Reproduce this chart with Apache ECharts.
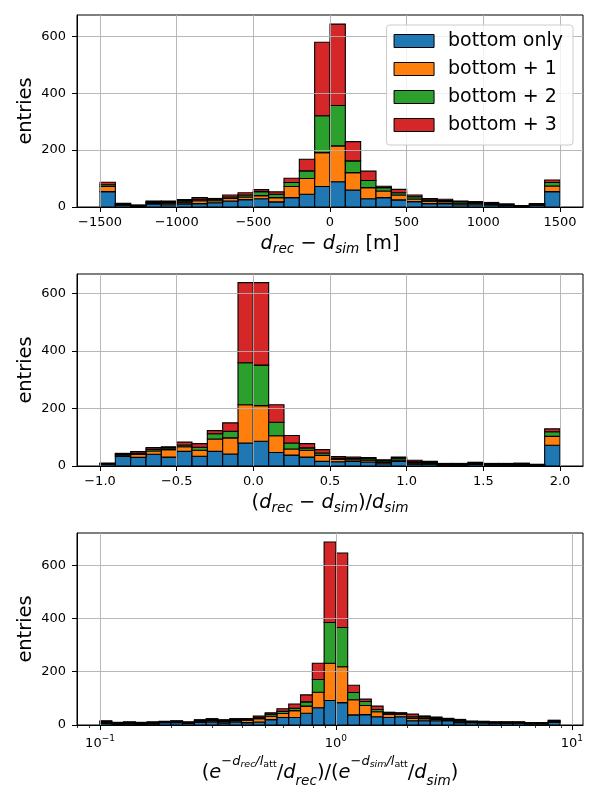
<!DOCTYPE html>
<html>
<head>
<meta charset="utf-8">
<script src="https://cdn.jsdelivr.net/npm/echarts@6/dist/echarts.min.js"></script>
<style>
html,body{margin:0;padding:0;background:#fff;}
#chart{width:600px;height:800px;}
</style>
</head>
<body>
<div id="chart"></div>
<script>
const seriesNames = ['bottom only', 'bottom + 1', 'bottom + 2', 'bottom + 3'];
const seriesColors = ['#1f77b4', '#ff7f0e', '#2ca02c', '#d62728'];

// Panel 1: d_rec - d_sim [m]
const edgesDiff = [-1500,-1400,-1300,-1200,-1100,-1000,-900,-800,-700,-600,-500,-400,-300,-200,-100,0,100,200,300,400,500,600,700,800,900,1000,1100,1200,1300,1400,1500];
const diffBottomOnly = [54,6,4,11,8,11,12,15,21,26,29,18,33,45,72,89,60,29,33,25,19,12,12,8,8,7,5,2,6,54];
const diffBottom1 = [18,3,1,4,5,6,10,7,9,9,11,15,39,55,119,126,61,39,23,17,9,8,7,5,5,4,2,1,2,20];
const diffBottom2 = [6,2,1,3,4,5,5,5,5,7,14,12,14,27,130,142,41,25,12,8,8,5,4,6,3,3,2,1,2,12];
const diffBottom3 = [9,2,1,3,4,4,6,3,7,8,7,8,15,41,258,286,68,33,5,12,6,5,4,2,3,2,2,1,2,9];
const ticksDiff = [-1500,-1000,-500,0,500,1000,1500];

// Panel 2: (d_rec - d_sim)/d_sim
const edgesRel = [-1.0,-0.9,-0.8,-0.7,-0.6,-0.5,-0.4,-0.3,-0.2,-0.1,0.0,0.1,0.2,0.3,0.4,0.5,0.6,0.7,0.8,0.9,1.0,1.1,1.2,1.3,1.4,1.5,1.6,1.7,1.8,1.9,2.0];
const relBottomOnly = [6,33,30,41,31,51,34,51,42,80,86,47,38,31,16,15,16,14,8,16,6,6,3,3,5,3,3,4,2,72];
const relBottom1 = [2,5,10,11,26,16,21,43,56,133,124,58,21,24,21,9,6,6,4,5,5,3,2,2,3,2,2,2,1,31];
const relBottom2 = [1,3,4,6,6,6,10,18,23,146,141,47,21,8,8,4,4,5,6,6,4,3,2,2,3,2,2,2,2,16];
const relBottom3 = [1,3,6,6,4,10,13,11,29,279,287,61,26,15,12,5,5,4,4,4,5,4,2,2,2,2,2,2,1,10];
const ticksRel = [-1.0,-0.5,0.0,0.5,1.0,1.5,2.0];

// Panel 3: attenuation ratio (log bins)
const edgesAtt = [0.1,0.1122,0.1259,0.1413,0.1585,0.1778,0.1995,0.2239,0.2512,0.2818,0.3162,0.3548,0.3981,0.4467,0.5012,0.5623,0.6310,0.7079,0.7943,0.8913,1.0,1.122,1.259,1.413,1.585,1.778,1.995,2.239,2.512,2.818,3.162,3.548,3.981,4.467,5.012,5.623,6.310,7.079,7.943,8.913];
const attBottomOnly = [6,4,5,4,5,9,9,6,10,11,8,11,9,11,20,28,28,44,65,92,84,38,39,31,28,31,16,16,16,16,9,9,8,7,7,7,5,5,10];
const attBottom1 = [4,2,3,2,3,2,3,2,4,5,5,5,9,13,13,15,26,27,58,140,135,57,34,19,12,9,9,8,5,3,5,2,2,2,2,2,2,2,3];
const attBottom2 = [3,2,2,2,2,1,2,2,3,4,4,4,3,5,8,8,9,16,48,153,147,27,15,8,5,4,6,6,5,3,4,2,2,2,2,2,1,1,3];
const attBottom3 = [3,2,2,2,2,2,2,2,3,4,3,4,3,5,5,10,16,26,61,302,280,27,9,13,3,2,10,4,4,3,3,2,2,1,1,1,1,1,2];
const ticksAttMajor = [0.1, 1, 10];
const ticksAttMinor = [0.08,0.09,0.2,0.3,0.4,0.5,0.6,0.7,0.8,0.9,2,3,4,5,6,7,8,9];

const yTicks = [0, 200, 400, 600];

function renderBar(params, api) {
  const x0 = api.value(0), x1 = api.value(1), y0 = api.value(2), y1 = api.value(3);
  const pA = api.coord([x0, y1]);
  const pB = api.coord([x1, y0]);
  return {
    type: 'rect',
    shape: { x: pA[0], y: pA[1], width: pB[0] - pA[0], height: pB[1] - pA[1] },
    style: { fill: api.visual('color'), stroke: '#000', lineWidth: 1.1 }
  };
}

function stackedSeries(edges, comps, gridIdx, xIdx) {
  const base = new Array(comps[0].length).fill(0);
  return comps.map((vals, k) => {
    const data = vals.map((v, i) => {
      const item = [edges[i], edges[i + 1], base[i], base[i] + v];
      base[i] += v;
      return item;
    });
    return {
      type: 'custom', name: seriesNames[k], xAxisIndex: xIdx, yAxisIndex: gridIdx,
      renderItem: renderBar, data: data, encode: { x: [0, 1], y: [2, 3] },
      itemStyle: { color: seriesColors[k] }, z: 2
    };
  });
}

const minus = s => String(s).replace('-', '\u2212');
const FONT = 'DejaVu Sans';
const tickLabelStyle = { color: '#000', fontSize: 13, fontFamily: FONT, margin: 9 };
const splitLine = { show: true, lineStyle: { color: '#b0b0b0', width: 0.9 } };
const axisLine = { show: true, onZero: false, lineStyle: { color: '#000', width: 1 } };
const axisTick = { show: true, length: 5, lineStyle: { color: '#000', width: 1 } };

const grids = [
  { left: 77, right: 17, top: 15, height: 192 },
  { left: 77, right: 17, top: 274, height: 192 },
  { left: 77, right: 17, top: 533, height: 192 }
].map(g => Object.assign(g, { show: true, borderColor: '#000', borderWidth: 1, backgroundColor: 'transparent' }));

function mathRich(mainB, subB, L) {
  const f = 19.4, fs = 13.6;
  return {
    n: { fontSize: f, fontFamily: FONT, color: '#000', lineHeight: L, verticalAlign: 'top', padding: [mainB - 0.85 * f, 0, 0, 0] },
    i: { fontSize: f, fontFamily: FONT, fontStyle: 'italic', color: '#000', lineHeight: L, verticalAlign: 'top', padding: [mainB - 0.85 * f, 0, 0, 0] },
    s: { fontSize: fs, fontFamily: FONT, fontStyle: 'italic', color: '#000', lineHeight: L, verticalAlign: 'top', padding: [subB - 0.85 * fs, 0, 0, 0] },
    p: { fontSize: 13, fontFamily: FONT, color: '#000', lineHeight: L, verticalAlign: 'top', padding: [0, 0, 0, 0] },
    pi: { fontSize: 13, fontFamily: FONT, fontStyle: 'italic', color: '#000', lineHeight: L, verticalAlign: 'top', padding: [0, 0, 0, 0] },
    ps: { fontSize: 9.5, fontFamily: FONT, fontStyle: 'italic', color: '#000', lineHeight: L, verticalAlign: 'top', padding: [4.5, 0, 0, 0] },
    pr: { fontSize: 9.5, fontFamily: FONT, color: '#000', lineHeight: L, verticalAlign: 'top', padding: [4.5, 0, 0, 0] }
  };
}

const xAxes = [
  {
    gridIndex: 0, type: 'value', min: -1650, max: 1650, z: 3,
    axisLine, axisTick: Object.assign({ customValues: ticksDiff }, axisTick), splitLine,
    axisLabel: Object.assign({ customValues: ticksDiff, formatter: v => minus(v) }, tickLabelStyle),
    name: '{i|d}{s|rec}{n| \u2212 }{i|d}{s|sim}{n| [m]}', nameLocation: 'middle', nameGap: 25,
    nameTextStyle: { rich: mathRich(19, 22.5, 26) }
  },
  {
    gridIndex: 1, type: 'value', min: -1.15, max: 2.15, z: 3,
    axisLine, axisTick: Object.assign({ customValues: ticksRel }, axisTick), splitLine,
    axisLabel: Object.assign({ customValues: ticksRel, formatter: v => minus(v.toFixed(1)) }, tickLabelStyle),
    name: '{n|(}{i|d}{s|rec}{n| \u2212 }{i|d}{s|sim}{n|)/}{i|d}{s|sim}', nameLocation: 'middle', nameGap: 25,
    nameTextStyle: { rich: mathRich(19, 22.5, 26) }
  },
  {
    gridIndex: 2, type: 'log', logBase: 10, min: 0.07988, max: 11.155, z: 3,
    axisLine, axisTick: Object.assign({ customValues: ticksAttMajor }, axisTick), splitLine,
    axisLabel: Object.assign({}, tickLabelStyle, {
      customValues: ticksAttMajor,
      formatter: v => { const e = Math.round(Math.log10(v)); return '{b|10}{e|' + minus(e) + '}'; },
      rich: {
        b: { fontSize: 13, fontFamily: FONT, color: '#000', lineHeight: 17, verticalAlign: 'top', padding: [3.5, 0, 0, 0] },
        e: { fontSize: 9, fontFamily: FONT, color: '#000', lineHeight: 17, verticalAlign: 'top', padding: [0, 0, 0, 0] }
      }
    }),
    name: '{n|(}{i|e}{p|\u2212}{pi|d}{ps|rec}{pi|/l}{pr|att}{n|/}{i|d}{s|rec}{n|)/(}{i|e}{p|\u2212}{pi|d}{ps|sim}{pi|/l}{pr|att}{n|/}{i|d}{s|sim}{n|)}',
    nameLocation: 'middle', nameGap: 30,
    nameTextStyle: { rich: mathRich(25, 31.5, 34) }
  },
  {
    gridIndex: 2, type: 'log', logBase: 10, min: 0.07988, max: 11.155, position: 'bottom', z: 3,
    axisLine: { show: false, onZero: false }, splitLine: { show: false }, axisLabel: { show: false },
    axisTick: { show: true, length: 3, customValues: ticksAttMinor, lineStyle: { color: '#000', width: 0.8 } }
  }
];

const yAxes = [0, 1, 2].map(g => ({
  gridIndex: g, type: 'value', min: 0, max: [675, 668, 721][g], z: 3,
  axisLine, axisTick: Object.assign({ customValues: yTicks }, axisTick), splitLine,
  axisLabel: Object.assign({ customValues: yTicks }, tickLabelStyle, { margin: 11 }),
  name: 'entries', nameLocation: 'middle', nameGap: 42, nameMoveOverlap: false,
  nameTextStyle: { fontSize: 19.4, fontFamily: FONT, color: '#000' }
}));

const series = [].concat(
  stackedSeries(edgesDiff, [diffBottomOnly, diffBottom1, diffBottom2, diffBottom3], 0, 0),
  stackedSeries(edgesRel, [relBottomOnly, relBottom1, relBottom2, relBottom3], 1, 1),
  stackedSeries(edgesAtt, [attBottomOnly, attBottom1, attBottom2, attBottom3], 2, 2)
);

const option = {
  animation: false,
  backgroundColor: '#fff',
  grid: grids,
  xAxis: xAxes,
  yAxis: yAxes,
  legend: {
    data: seriesNames, orient: 'vertical', right: 27, top: 25, z: 10,
    itemWidth: 40, itemHeight: 13, itemGap: 8, icon: 'rect',
    padding: [6, 10, 10, 7],
    backgroundColor: 'rgba(255,255,255,0.8)', borderColor: '#cccccc', borderWidth: 1, borderRadius: 3,
    itemStyle: { borderColor: '#000', borderWidth: 1 },
    textStyle: { fontSize: 19, fontFamily: FONT, color: '#000', lineHeight: 20, padding: [0, 0, 0, 9] }
  },
  series: series
};

const chart = echarts.init(document.getElementById('chart'), null, { renderer: 'canvas' });
chart.setOption(option);
</script>
</body>
</html>
